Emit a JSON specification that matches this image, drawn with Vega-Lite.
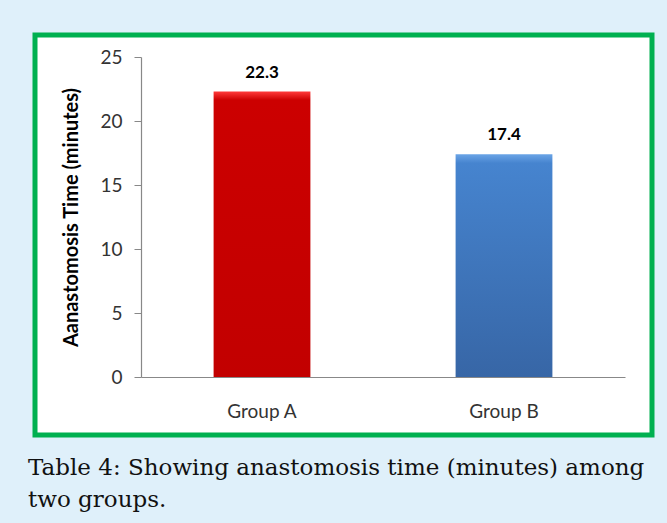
{
  "$schema": "https://vega.github.io/schema/vega-lite/v6.json",
  "width": 617,
  "height": 400,
  "autosize": {"type": "none"},
  "padding": {"left": 35, "top": 35, "right": 15, "bottom": 88},
  "background": "#dff0fa",
  "data": {"values": [
    {"group": "Group A", "time": 22.3},
    {"group": "Group B", "time": 17.4}
  ]},
  "title": {
    "text": ["Table 4: Showing anastomosis time (minutes) among", "two groups."],
    "orient": "bottom",
    "anchor": "start",
    "font": "DejaVu Serif",
    "fontSize": 23,
    "fontWeight": "normal",
    "color": "#111111",
    "lineHeight": 32,
    "offset": 22,
    "dx": -7
  },
  "encoding": {
    "x": {
      "field": "group",
      "type": "nominal",
      "scale": {"range": [106, 590], "paddingInner": 0.6, "paddingOuter": 0.3},
      "axis": {
        "title": null,
        "labelAngle": 0,
        "ticks": false,
        "offset": -58,
        "labelPadding": 25,
        "labelFont": "Lato",
        "labelFontSize": 19,
        "labelColor": "#333333",
        "domainColor": "#888888",
        "domainWidth": 1.2
      }
    },
    "y": {
      "field": "time",
      "type": "quantitative",
      "scale": {"domain": [0, 25], "range": [342, 22], "nice": false},
      "axis": {
        "title": "Aanastomosis Time (minutes)",
        "titleFont": "Lato",
        "titleFontSize": 20,
        "titleFontWeight": "bold",
        "titleColor": "#000000",
        "titleX": -60,
        "values": [0, 5, 10, 15, 20, 25],
        "offset": -106,
        "grid": false,
        "tickSize": 7,
        "tickColor": "#888888",
        "domainColor": "#888888",
        "domainWidth": 1.2,
        "labelFont": "Lato",
        "labelFontSize": 19,
        "labelColor": "#333333",
        "labelPadding": 12
      }
    }
  },
  "layer": [
    {
      "transform": [{"filter": "datum.group === 'Group A'"}],
      "mark": {
        "type": "bar",
        "color": {
          "gradient": "linear", "x1": 0, "y1": 0, "x2": 0, "y2": 1,
          "stops": [
            {"offset": 0, "color": "#ff3a3a"},
            {"offset": 0.03, "color": "#cc0000"},
            {"offset": 1, "color": "#c20000"}
          ]
        }
      }
    },
    {
      "transform": [{"filter": "datum.group === 'Group B'"}],
      "mark": {
        "type": "bar",
        "color": {
          "gradient": "linear", "x1": 0, "y1": 0, "x2": 0, "y2": 1,
          "stops": [
            {"offset": 0, "color": "#6aa4e6"},
            {"offset": 0.04, "color": "#4684cf"},
            {"offset": 1, "color": "#3766a6"}
          ]
        }
      }
    },
    {
      "mark": {"type": "text", "dy": -19, "font": "Lato", "fontSize": 17, "fontWeight": "bold", "color": "#000000"},
      "encoding": {"text": {"field": "time", "type": "quantitative", "format": ".1f"}}
    }
  ],
  "config": {
    "view": {"fill": "#ffffff", "stroke": "#00b050", "strokeWidth": 5}
  }
}
